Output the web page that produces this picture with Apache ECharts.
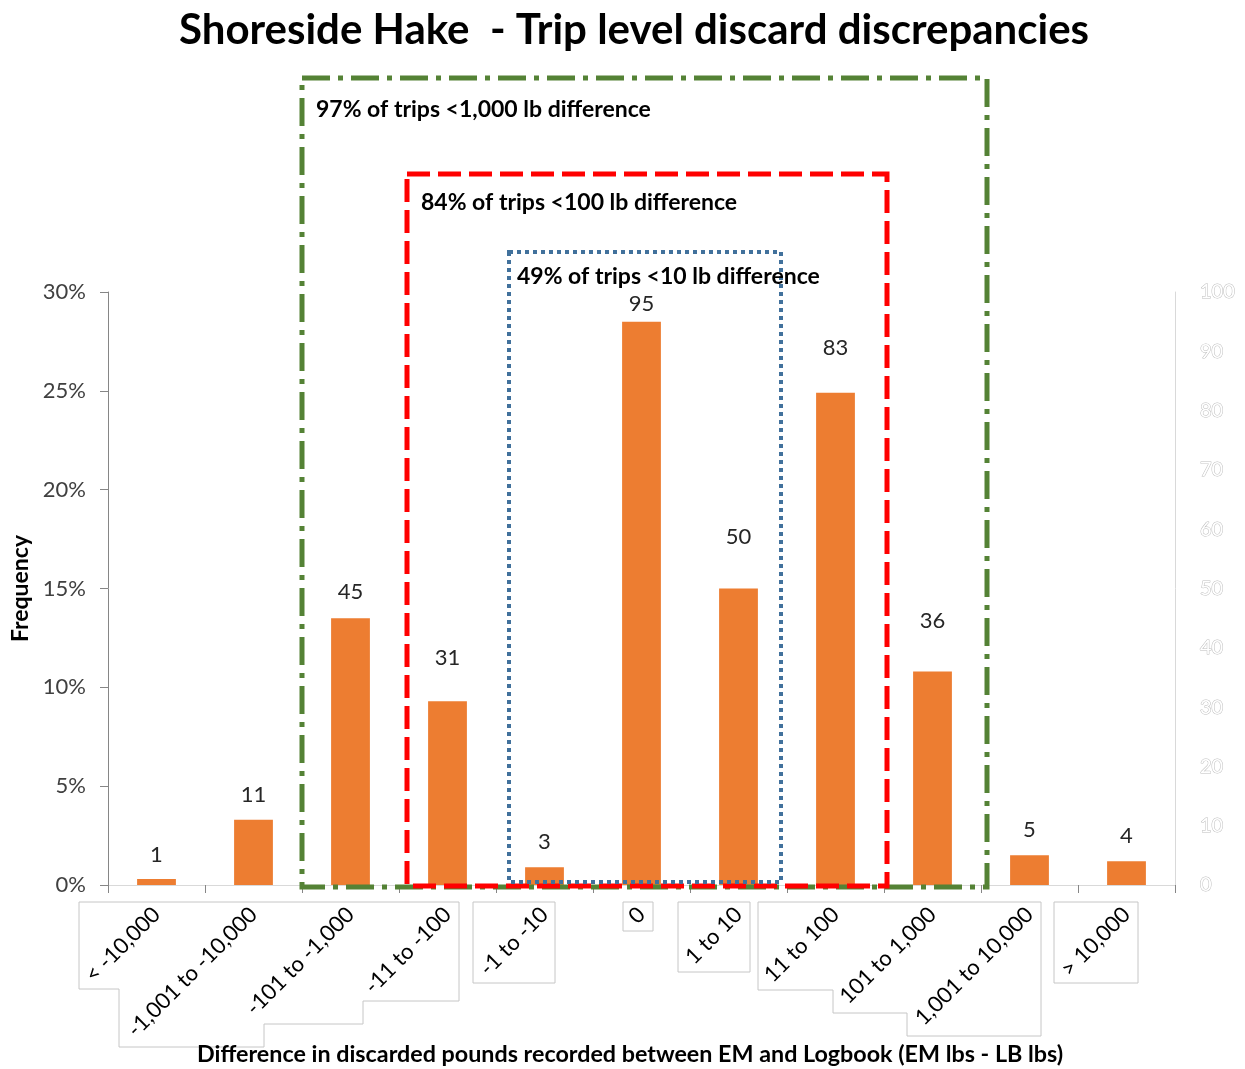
<!DOCTYPE html>
<html>
<head>
<meta charset="utf-8">
<script src="https://cdn.jsdelivr.net/npm/echarts@6/dist/echarts.min.js"></script>
<style>
  html, body { margin: 0; padding: 0; background: #fff; }
  #chart { width: 1245px; height: 1069px; }
</style>
</head>
<body>
<div id="chart"></div>
<script>
// Discrepancy bins (EM lbs - LB lbs) and number of trips in each bin
const categories = ['< -10,000', '-1,001 to -10,000', '-101 to -1,000', '-11 to -100', '-1 to -10',
  '0', '1 to 10', '11 to 100', '101 to 1,000', '1,001 to 10,000', '> 10,000'];
const tripCounts = [1, 11, 45, 31, 3, 95, 50, 83, 36, 5, 4];

// Left axis (share of trips) and right axis (trip count) ranges
const pctMin = 0, pctMax = 0.30, pctStep = 0.05;
const countMin = 0, countMax = 100, countStep = 10;

// Bracketing annotations
const notes = [
  '97% of trips <1,000 lb difference',
  '84% of trips <100 lb difference',
  '49% of trips <10 lb difference'
];

// Extra lift of some value labels so they clear the bracket text
const labelGap = [13, 14, 15, 32, 14, 7, 41, 34, 40, 14, 14];

const FONT = 'Lato, "Open Sans", sans-serif';
const chart = echarts.init(document.getElementById('chart'));

const boxStroke = '#c6c6c6';
function outline(points) {
  return { type: 'polyline', z: 5, silent: true,
    shape: { points: points },
    style: { stroke: boxStroke, lineWidth: 1, fill: null } };
}

chart.setOption({
  animation: false,
  backgroundColor: '#ffffff',
  title: {
    text: 'Shoreside Hake  - Trip level discard discrepancies',
    left: 629, top: 4, textAlign: 'center',
    textStyle: { fontFamily: FONT, fontWeight: 'bold', fontSize: 42, color: '#000' }
  },
  grid: { left: 108, right: 70, top: 292, bottom: 184, containLabel: false },
  xAxis: [{
    type: 'category',
    data: categories,
    boundaryGap: true,
    axisLine: { show: true, lineStyle: { color: '#868686', width: 1 } },
    axisTick: { show: true, length: 8, lineStyle: { color: '#868686' } },
    axisLabel: { interval: 0, rotate: 45, margin: 26, fontFamily: FONT, fontSize: 22, color: '#000' },
    splitLine: { show: false }
  }, {
    type: 'category',
    data: categories,
    position: 'top',
    axisLine: { show: true, lineStyle: { color: '#d9d9d9', width: 1 } },
    axisTick: { show: false },
    axisLabel: { show: false }
  }],
  yAxis: [{
    type: 'value',
    min: pctMin, max: pctMax, interval: pctStep,
    position: 'left',
    name: 'Frequency',
    nameLocation: 'middle',
    nameGap: 76,
    nameTextStyle: { fontFamily: FONT, fontWeight: 'bold', fontSize: 23, color: '#000' },
    axisLine: { show: true, lineStyle: { color: '#868686' } },
    axisTick: { show: true, length: 8, lineStyle: { color: '#868686' } },
    axisLabel: {
      margin: 22, fontFamily: FONT, fontSize: 22, color: '#404040',
      formatter: v => Math.round(v * 100) + '%'
    },
    splitLine: { show: false }
  }, {
    type: 'value',
    min: countMin, max: countMax, interval: countStep,
    position: 'right',
    axisLine: { show: true, lineStyle: { color: '#d9d9d9' } },
    axisTick: { show: false },
    axisLabel: {
      margin: 25, fontFamily: FONT, fontSize: 20,
      color: '#ffffff', textBorderColor: '#bdbdbd', textBorderWidth: 1
    },
    splitLine: { show: false }
  }],
  series: [{
    type: 'bar',
    yAxisIndex: 1,
    data: tripCounts.map((v, i) => ({ value: v, label: { distance: labelGap[i] } })),
    barWidth: '40%',
    itemStyle: { color: '#ED7D31' },
    label: {
      show: true, position: 'top', distance: 8,
      fontFamily: FONT, fontSize: 22, color: '#262626'
    }
  }],
  graphic: [
    // label frames below the category axis
    outline([[79, 902], [459, 902], [459, 1001], [363, 1001], [363, 1024], [264, 1024], [264, 1047], [119, 1047], [119, 989], [79, 989], [79, 902]]),
    outline([[473, 902], [555, 902], [555, 983], [473, 983], [473, 902]]),
    outline([[623, 902], [653, 902], [653, 931], [623, 931], [623, 902]]),
    outline([[678, 902], [750, 902], [750, 972], [678, 972], [678, 902]]),
    outline([[758, 902], [1041, 902], [1041, 1036], [907, 1036], [907, 1013], [833, 1013], [833, 990], [758, 990], [758, 902]]),
    outline([[1054, 902], [1138, 902], [1138, 983], [1054, 983], [1054, 902]]),
    // bracket: < 1,000 lb
    { type: 'rect', z: 50, silent: true,
      shape: { x: 302, y: 78, width: 685, height: 809 },
      style: { fill: null, stroke: '#548235', lineWidth: 5, lineDash: [28, 8, 5, 8] } },
    // bracket: < 100 lb
    { type: 'rect', z: 51, silent: true,
      shape: { x: 407, y: 174, width: 480, height: 712 },
      style: { fill: null, stroke: '#ff0000', lineWidth: 5, lineDash: [23, 8] } },
    // bracket: < 10 lb
    { type: 'rect', z: 52, silent: true,
      shape: { x: 509, y: 252, width: 272, height: 630 },
      style: { fill: null, stroke: '#41719c', lineWidth: 4, lineDash: [4, 4] } },
    { type: 'text', z: 60, silent: true, left: 316, top: 98,
      style: { text: notes[0], fontFamily: FONT, fontWeight: 'bold', fontSize: 23, fill: '#000' } },
    { type: 'text', z: 60, silent: true, left: 421, top: 191,
      style: { text: notes[1], fontFamily: FONT, fontWeight: 'bold', fontSize: 23, fill: '#000' } },
    { type: 'text', z: 60, silent: true, left: 517, top: 265,
      style: { text: notes[2], fontFamily: FONT, fontWeight: 'bold', fontSize: 23, fill: '#000' } },
    // category axis title
    { type: 'text', z: 60, silent: true, left: 197, top: 1043,
      style: { text: 'Difference in discarded pounds recorded between EM and Logbook (EM lbs - LB lbs)',
        fontFamily: FONT, fontWeight: 'bold', fontSize: 23.3, fill: '#000' } }
  ]
});
</script>
</body>
</html>
